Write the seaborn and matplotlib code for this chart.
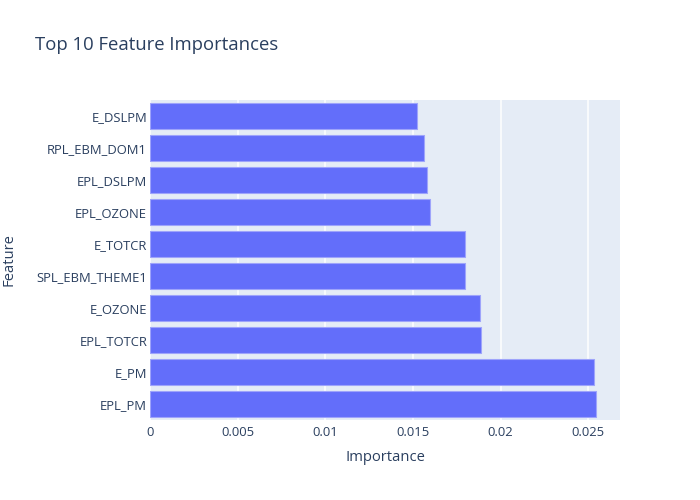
"""Top 10 feature importances (horizontal bar chart)"""
import matplotlib
matplotlib.use("Agg")
import matplotlib.pyplot as plt
import pandas as pd
import seaborn as sns

features = ["E_DSLPM", "RPL_EBM_DOM1", "EPL_DSLPM", "EPL_OZONE", "E_TOTCR",
            "SPL_EBM_THEME1", "E_OZONE", "EPL_TOTCR", "E_PM", "EPL_PM"]
importances = [0.01525, 0.01561, 0.01582, 0.01597, 0.01797,
               0.01799, 0.01881, 0.01886, 0.02532, 0.02546]
x_ticks = [0, 0.005, 0.01, 0.015, 0.02, 0.025]
x_tick_labels = ["0", "0.005", "0.01", "0.015", "0.02", "0.025"]

text_color = "#2a3f5f"

sns.set_style("white")
plt.rcParams["font.family"] = ["Open Sans", "DejaVu Sans"]

df = pd.DataFrame({"Feature": features, "Importance": importances})

fig = plt.figure(figsize=(7, 5), dpi=100)
ax = fig.add_axes([150 / 700, 80 / 500, 470 / 700, 320 / 500])
ax.set_facecolor("#E5ECF6")

sns.barplot(data=df, x="Importance", y="Feature", orient="h", order=features,
            color="#636EFA", saturation=1, width=0.8,
            edgecolor="#9ea4fb", linewidth=0.8, ax=ax, zorder=3)

ax.set_xlim(0, 0.02681)
ax.set_xticks(x_ticks)
ax.set_xticklabels(x_tick_labels)
ax.grid(axis="x", color="white", linewidth=1.1, zorder=0)
ax.set_axisbelow(True)
for s in ax.spines.values():
    s.set_visible(False)
ax.tick_params(axis="both", length=0, labelsize=9.4, colors=text_color)
ax.tick_params(axis="y", pad=2)
ax.tick_params(axis="x", pad=4)

ax.set_xlabel("Importance", fontsize=10.6, color=text_color)
ax.xaxis.set_label_coords(0.5, -0.095)
ax.set_ylabel("Feature", fontsize=10.6, color=text_color)
ax.yaxis.set_label_coords(-0.284, 0.5)

fig.text(35 / 700, 1 - 45 / 500, "Top 10 Feature Importances",
         fontsize=13.3, color=text_color, va="center", ha="left")

fig.savefig("out.png", dpi=100)
plt.close(fig)
